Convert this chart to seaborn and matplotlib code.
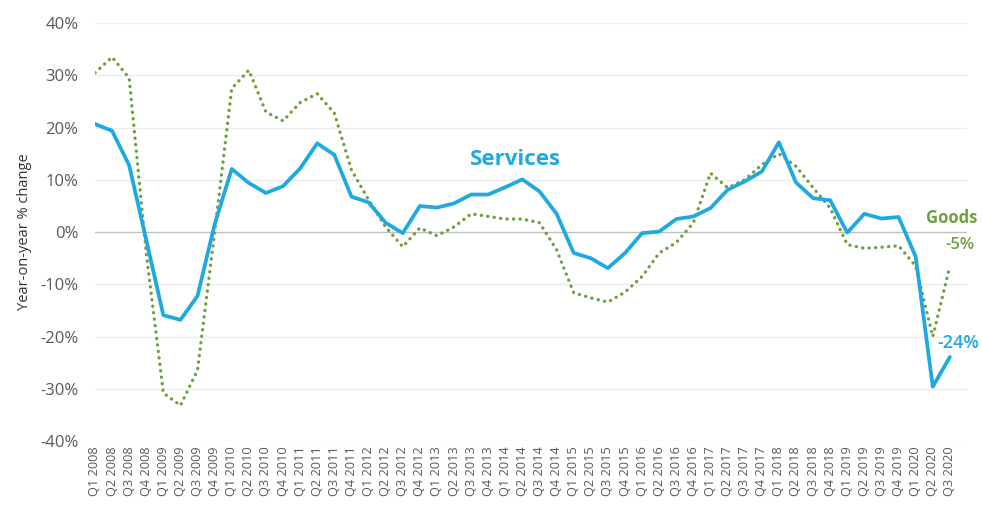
import matplotlib
matplotlib.use("Agg")
import matplotlib.pyplot as plt
import matplotlib.ticker as mticker
import numpy as np
import pandas as pd
import seaborn as sns

# Dane: kwartały Q1 2008 - Q3 2020
years = list(range(2008, 2021))
quarters = [f"Q{q} {y}" for y in years for q in range(1, 5)][:51]

services = [
    20.7, 19.4, 12.8, -1.5, -15.9, -16.8, -12.2, 1.5,
    12.1, 9.4, 7.5, 8.8, 12.2, 17.0, 14.8, 6.8,
    5.7, 1.8, -0.2, 5.0, 4.7, 5.5, 7.2, 7.2,
    8.6, 10.1, 7.8, 3.5, -4.0, -5.0, -6.9, -4.0,
    -0.2, 0.1, 2.5, 3.0, 4.6, 8.1, 9.7, 11.6,
    17.2, 9.5, 6.5, 6.1, -0.1, 3.5, 2.6, 2.9,
    -4.7, -29.6, -23.9,
]
goods = [
    30.5, 33.5, 29.5, -4.0, -30.8, -33.2, -26.4, 0.0,
    27.5, 31.0, 23.0, 21.3, 24.8, 26.5, 22.8, 11.9,
    6.2, 1.0, -2.8, 0.8, -0.7, 1.0, 3.5, 3.0,
    2.5, 2.5, 1.8, -3.4, -11.6, -12.6, -13.4, -11.5,
    -8.5, -4.0, -2.0, 1.8, 11.3, 8.5, 10.0, 12.9,
    15.0, 12.6, 8.5, 4.6, -2.4, -3.1, -2.9, -2.6,
    -6.5, -20.0, -6.5,
]

BLUE = "#1FA9E1"
GREEN = "#6FA03E"
GREY = "#595959"


def main() -> None:
    sns.set_style("white")
    plt.rcParams["font.family"] = ["Open Sans", "DejaVu Sans"]

    df = pd.DataFrame({"pos": np.arange(len(quarters)), "quarter": quarters,
                       "Services": services, "Goods": goods})

    fig = plt.figure(figsize=(9.82, 5.05), dpi=100)
    ax = fig.add_axes([0.0967, 0.1267, 0.888, 0.8273])

    for y in range(-40, 41, 10):
        ax.axhline(y, color="#BFBFBF" if y == 0 else "#EDEDED", lw=1.0, zorder=0)

    sns.lineplot(data=df, x="pos", y="Goods", ax=ax, color=GREEN, lw=2.4,
                 linestyle=(0, (0.05, 1.9)), dash_capstyle="round", zorder=2)
    sns.lineplot(data=df, x="pos", y="Services", ax=ax, color=BLUE, lw=2.7,
                 zorder=3)

    ax.set_xlim(0, len(quarters))
    ax.set_ylim(-40, 40)
    ax.set_xticks(df["pos"])
    ax.set_xticklabels(quarters, rotation=90, fontsize=9.2, color=GREY)
    ax.yaxis.set_major_locator(mticker.MultipleLocator(10))
    ax.yaxis.set_major_formatter(mticker.FuncFormatter(lambda v, _: f"{v:.0f}%"))
    ax.tick_params(axis="y", labelsize=12, colors=GREY, length=0, pad=12)
    ax.tick_params(axis="x", length=0, pad=4)
    ax.set_xlabel("")
    ax.set_ylabel("Year-on-year % change", fontsize=10.5, color="#333333", labelpad=6)
    for s in ax.spines.values():
        s.set_visible(False)

    ax.text(24.6, 13.9, "Services", color=BLUE, fontsize=16, fontweight="bold",
            ha="center", va="center")
    ax.text(51.6, 2.7, "Goods", color=GREEN, fontsize=12, fontweight="bold",
            ha="right", va="center")
    ax.text(50.6, -2.4, "-5%", color=GREEN, fontsize=12, fontweight="semibold",
            ha="center", va="center")
    ax.text(50.5, -21.2, "-24%", color=BLUE, fontsize=13, fontweight="semibold",
            ha="center", va="center")

    fig.savefig("out.png", dpi=100)
    plt.close(fig)


if __name__ == "__main__":
    main()
